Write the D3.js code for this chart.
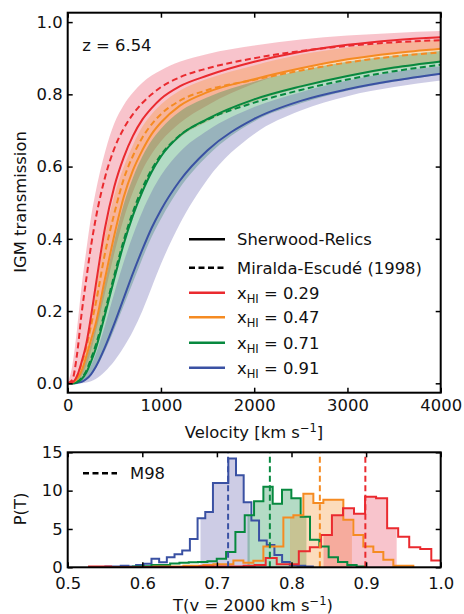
<!DOCTYPE html>
<html>
<head>
<meta charset="utf-8">
<script src="https://cdn.jsdelivr.net/npm/d3@7"></script>
<style>
  body { margin: 0; background: #fff; }
  svg text { font-family: "DejaVu Sans", sans-serif; fill: #111; }
</style>
</head>
<body>
<svg id="fig" width="464" height="614"></svg>
<script>
// ---- top panel: mean transmission vs velocity ----
const velocities = [0, 50, 100, 150, 200, 250, 300, 400, 500, 600, 700, 800, 900, 1000, 1200, 1500, 2000, 2500, 3000, 3500, 4000];

const redSolid    = [0, 0.003, 0.02, 0.06, 0.11, 0.185, 0.27, 0.43, 0.545, 0.625, 0.685, 0.73, 0.762, 0.788, 0.822, 0.852, 0.89, 0.918, 0.937, 0.95, 0.958];
const redDashed   = [0, 0.01, 0.08, 0.195, 0.29, 0.38, 0.455, 0.57, 0.65, 0.705, 0.745, 0.776, 0.8, 0.82, 0.847, 0.872, 0.9, 0.92, 0.934, 0.944, 0.950];
const redLow      = [0, 0, 0.005, 0.02, 0.05, 0.09, 0.14, 0.25, 0.36, 0.455, 0.53, 0.59, 0.635, 0.67, 0.72, 0.77, 0.83, 0.87, 0.897, 0.915, 0.928];
const redHigh     = [0, 0.05, 0.15, 0.27, 0.37, 0.46, 0.53, 0.64, 0.72, 0.77, 0.805, 0.832, 0.852, 0.867, 0.89, 0.912, 0.935, 0.952, 0.963, 0.97, 0.975];

const orangeSolid  = [0, 0.002, 0.012, 0.035, 0.075, 0.12, 0.165, 0.29, 0.41, 0.515, 0.59, 0.645, 0.69, 0.722, 0.768, 0.806, 0.842, 0.872, 0.897, 0.914, 0.926];
const orangeDashed = [0, 0.003, 0.02, 0.055, 0.1, 0.16, 0.22, 0.36, 0.47, 0.565, 0.63, 0.68, 0.717, 0.745, 0.782, 0.812, 0.84, 0.866, 0.888, 0.905, 0.916];
const orangeLow    = [0, 0, 0.002, 0.012, 0.03, 0.06, 0.095, 0.19, 0.29, 0.385, 0.465, 0.53, 0.582, 0.625, 0.68, 0.725, 0.78, 0.818, 0.848, 0.87, 0.888];
const orangeHigh   = [0, 0.005, 0.02, 0.06, 0.11, 0.18, 0.26, 0.41, 0.52, 0.598, 0.66, 0.71, 0.745, 0.772, 0.81, 0.843, 0.88, 0.91, 0.93, 0.943, 0.952];

const greenSolid  = [0, 0, 0.003, 0.012, 0.03, 0.06, 0.095, 0.19, 0.29, 0.385, 0.465, 0.53, 0.585, 0.628, 0.685, 0.732, 0.786, 0.822, 0.851, 0.874, 0.891];
const greenDashed = [0, 0, 0.004, 0.015, 0.035, 0.068, 0.105, 0.2, 0.3, 0.395, 0.475, 0.54, 0.592, 0.632, 0.686, 0.73, 0.777, 0.812, 0.841, 0.864, 0.882];
const greenLow    = [0, 0, 0.001, 0.004, 0.01, 0.022, 0.04, 0.09, 0.15, 0.215, 0.28, 0.345, 0.405, 0.455, 0.54, 0.63, 0.725, 0.775, 0.81, 0.835, 0.855];
const greenHigh   = [0, 0.002, 0.01, 0.035, 0.07, 0.11, 0.16, 0.28, 0.395, 0.495, 0.57, 0.628, 0.672, 0.705, 0.752, 0.792, 0.835, 0.866, 0.89, 0.907, 0.92];

const blueSolid   = [0, 0, 0.001, 0.004, 0.012, 0.025, 0.045, 0.1, 0.165, 0.235, 0.305, 0.37, 0.43, 0.48, 0.56, 0.645, 0.732, 0.782, 0.814, 0.838, 0.857];
const blueLow     = [0, 0, 0, 0, 0.002, 0.006, 0.012, 0.033, 0.062, 0.1, 0.145, 0.2, 0.265, 0.33, 0.44, 0.565, 0.69, 0.755, 0.795, 0.82, 0.838];
const blueHigh    = [0, 0, 0.003, 0.01, 0.025, 0.05, 0.08, 0.16, 0.25, 0.335, 0.41, 0.475, 0.53, 0.575, 0.64, 0.7, 0.765, 0.806, 0.838, 0.862, 0.878];

const xhiValues = ['0.29', '0.47', '0.71', '0.91'];
const redshiftLabel = 'z = 6.54';

// ---- bottom panel: distribution of T(v = 2000 km/s) ----
const blueBinStart = 0.5505, blueBinWidth = 0.0103;
const blueHist = [0.1, 0.1, 0.2, 0.1, 0.3, 0.45, 1.1, 0.65, 1.3, 1.7, 2.2, 3.7, 6.4, 7.2, 11.0, 11.0, 14.2, 12.0, 8.5, 6.1, 3.5, 2.9, 1.6, 0.7, 0.3, 0.2, 0.1];
const greenBinStart = 0.5623, greenBinWidth = 0.0125;
const greenHist = [0.05, 0.05, 0.1, 0.15, 0.3, 0.3, 0.5, 0.6, 0.65, 0.7, 0.8, 1.1, 2.0, 4.6, 6.8, 8.6, 10.5, 8.3, 10.1, 9.0, 6.6, 3.6, 2.7, 1.3, 0.7, 0.3, 0.1];
const orangeBinStart = 0.6015, orangeBinWidth = 0.0134;
const orangeHist = [0.05, 0.1, 0.1, 0.1, 0.2, 0.2, 0.3, 0.4, 0.4, 0.9, 0.6, 0.85, 2.7, 2.7, 6.5, 6.8, 9.6, 8.4, 8.8, 8.8, 6.2, 4.2, 2.7, 2.0, 1.0, 0.2, 0.2];
const redBinStart = 0.5286, redBinWidth = 0.0148;
const redHist = [0.1, 0.1, 0, 0, 0, 0.05, 0.05, 0.05, 0.05, 0.05, 0.1, 0.1, 0.1, 0.1, 0.2, 0.3, 1.2, 0.4, 0.4, 2.1, 2.6, 4.2, 6.8, 7.7, 7.0, 9.2, 9.0, 5.1, 4.0, 2.6, 2.4, 0.9];

// shaded central ranges and M98 values
const blueRange = [0.678, 0.744], greenRange = [0.741, 0.820], orangeRange = [0.798, 0.881], redRange = [0.843, 0.941];
const m98Values = [0.899, 0.838, 0.771, 0.715]; // red, orange, green, blue

const topYTicks = [0, 0.2, 0.4, 0.6, 0.8, 1.0];
const topXTicks = [0, 1000, 2000, 3000, 4000];
const botXTicks = [0.5, 0.6, 0.7, 0.8, 0.9, 1.0];
const botYTicks = [0, 5, 10, 15];

const COLORS = { red: '#ea2a2f', orange: '#f58b22', green: '#07893f', blue: '#3a51a3' };
const FILLS = { red: '#e83a55', orange: '#f58b22', green: '#07893f', blue: '#5a55a8' };
const FONT = 16.4;

class TransmissionFigure {
    constructor() {
        this.svg = d3.select('#fig');
        this.top = { left: 67.7, right: 440.7, top: 12.7, bottom: 392.7 };
        this.bot = { left: 67.7, right: 440.7, top: 452.3, bottom: 567.3 };
        this.drawTop();
        this.drawBottom();
    }

    frame(box, id) {
        this.svg.append('clipPath').attr('id', id)
            .append('rect')
            .attr('x', box.left).attr('y', box.top)
            .attr('width', box.right - box.left).attr('height', box.bottom - box.top);
    }

    axes(box, x, y, xTicks, yTicks, xFmt, yFmt, xPad) {
        const g = this.svg.append('g');
        const style = sel => {
            sel.select('.domain').remove();
            sel.selectAll('line').attr('stroke', '#000').attr('stroke-width', 1.5);
            sel.selectAll('text').style('font-size', FONT + 'px').attr('fill', '#111');
        };
        g.append('g').attr('transform', `translate(0,${box.bottom})`)
            .call(d3.axisBottom(x).tickValues(xTicks).tickFormat(xFmt).tickSizeInner(-5).tickSizeOuter(0).tickPadding(xPad))
            .call(style);
        g.append('g').attr('transform', `translate(0,${box.top})`)
            .call(d3.axisTop(x).tickValues(xTicks).tickFormat('').tickSizeInner(-5).tickSizeOuter(0))
            .call(style);
        g.append('g').attr('transform', `translate(${box.left},0)`)
            .call(d3.axisLeft(y).tickValues(yTicks).tickFormat(yFmt).tickSizeInner(-5).tickSizeOuter(0).tickPadding(5))
            .call(style);
        g.append('g').attr('transform', `translate(${box.right},0)`)
            .call(d3.axisRight(y).tickValues(yTicks).tickFormat('').tickSizeInner(-5).tickSizeOuter(0))
            .call(style);
        g.append('rect')
            .attr('x', box.left).attr('y', box.top)
            .attr('width', box.right - box.left).attr('height', box.bottom - box.top)
            .attr('fill', 'none').attr('stroke', '#000').attr('stroke-width', 2);
    }

    drawTop() {
        const b = this.top;
        const x = d3.scaleLinear().domain([0, 4000]).range([b.left, b.right]);
        const y = d3.scaleLinear().domain([-0.026, 1.026]).range([b.bottom, b.top]);
        this.frame(b, 'clipTop');

        const plot = this.svg.append('g').attr('clip-path', 'url(#clipTop)');
        const area = d3.area().curve(d3.curveMonotoneX)
            .x((d, i) => x(velocities[i])).y0(d => y(d[0])).y1(d => y(d[1]));
        const line = d3.line().curve(d3.curveMonotoneX)
            .x((d, i) => x(velocities[i])).y(d => y(d));

        const bands = [
            [redLow, redHigh, FILLS.red],
            [orangeLow, orangeHigh, FILLS.orange],
            [greenLow, greenHigh, FILLS.green],
            [blueLow, blueHigh, FILLS.blue]
        ];
        bands.forEach(([lo, hi, c]) => {
            plot.append('path')
                .attr('d', area(lo.map((v, i) => [v, hi[i]])))
                .attr('fill', c).attr('fill-opacity', 0.3);
        });

        const curves = [
            [blueSolid, COLORS.blue, null],
            [greenDashed, COLORS.green, '6,3.5'],
            [greenSolid, COLORS.green, null],
            [orangeDashed, COLORS.orange, '6,3.5'],
            [orangeSolid, COLORS.orange, null],
            [redDashed, COLORS.red, '6,3.5'],
            [redSolid, COLORS.red, null]
        ];
        curves.forEach(([vals, c, dash]) => {
            plot.append('path')
                .attr('d', line(vals))
                .attr('fill', 'none').attr('stroke', c).attr('stroke-width', 2)
                .attr('stroke-dasharray', dash);
        });

        this.axes(b, x, y, topXTicks, topYTicks, d3.format('d'), d3.format('.1f'), 6.5);

        this.svg.append('text').attr('x', 82.3).attr('y', 51).style('font-size', FONT + 'px').text(redshiftLabel);

        // legend
        const leg = this.svg.append('g');
        const rows = [
            { y: 239.3, color: '#000', dash: null, label: 'Sherwood-Relics' },
            { y: 267.7, color: '#000', dash: '6,3.5', label: 'Miralda-Escudé (1998)' },
            { y: 292.7, color: COLORS.red, xhi: xhiValues[0] },
            { y: 317.3, color: COLORS.orange, xhi: xhiValues[1] },
            { y: 342.7, color: COLORS.green, xhi: xhiValues[2] },
            { y: 367.7, color: COLORS.blue, xhi: xhiValues[3] }
        ];
        rows.forEach(r => {
            leg.append('line')
                .attr('x1', 189).attr('x2', 225).attr('y1', r.y).attr('y2', r.y)
                .attr('stroke', r.color).attr('stroke-width', 2.5)
                .attr('stroke-dasharray', r.dash);
            const t = leg.append('text').attr('x', 237).attr('y', r.y + 6).style('font-size', FONT + 'px');
            if (r.label) {
                t.text(r.label);
            } else {
                t.append('tspan').text('x');
                t.append('tspan').attr('dy', 4).style('font-size', '11.5px').text('HI');
                t.append('tspan').attr('dy', -4).text(' = ' + r.xhi);
            }
        });

        // axis labels
        const xl = this.svg.append('text').attr('x', 254).attr('y', 437.5)
            .attr('text-anchor', 'middle').style('font-size', FONT + 'px');
        xl.append('tspan').text('Velocity [km s');
        xl.append('tspan').attr('dy', -6).style('font-size', '11.5px').text('−1');
        xl.append('tspan').attr('dy', 6).text(']');

        this.svg.append('text')
            .attr('transform', 'translate(26,202) rotate(-90)')
            .attr('text-anchor', 'middle').style('font-size', FONT + 'px')
            .text('IGM transmission');
    }

    drawBottom() {
        const b = this.bot;
        const x = d3.scaleLinear().domain([0.5, 1.0]).range([b.left, b.right]);
        const y = d3.scaleLinear().domain([0, 15]).range([b.bottom, b.top]);
        this.frame(b, 'clipBot');
        const plot = this.svg.append('g').attr('clip-path', 'url(#clipBot)');

        const hists = [
            { start: blueBinStart, width: blueBinWidth, vals: blueHist, range: blueRange, color: COLORS.blue, fill: FILLS.blue },
            { start: greenBinStart, width: greenBinWidth, vals: greenHist, range: greenRange, color: COLORS.green, fill: FILLS.green },
            { start: orangeBinStart, width: orangeBinWidth, vals: orangeHist, range: orangeRange, color: COLORS.orange, fill: FILLS.orange },
            { start: redBinStart, width: redBinWidth, vals: redHist, range: redRange, color: COLORS.red, fill: FILLS.red }
        ];

        const stepLine = d3.line().curve(d3.curveStepAfter).x(d => x(d[0])).y(d => y(d[1]));
        const stepArea = d3.area().curve(d3.curveStepAfter).x(d => x(d[0])).y0(y(0)).y1(d => y(d[1]));

        const points = h => {
            const pts = [[h.start, 0]];
            h.vals.forEach((v, i) => pts.push([h.start + i * h.width, v]));
            pts.push([h.start + h.vals.length * h.width, 0]);
            return pts;
        };

        // shaded central parts
        hists.forEach((h, k) => {
            const cid = 'fillclip' + k;
            this.svg.append('clipPath').attr('id', cid)
                .append('rect')
                .attr('x', x(h.range[0])).attr('y', b.top)
                .attr('width', x(h.range[1]) - x(h.range[0])).attr('height', b.bottom - b.top);
            const pts = h.vals.map((v, i) => [h.start + i * h.width, v]);
            pts.push([h.start + h.vals.length * h.width, 0]);
            plot.append('g').attr('clip-path', `url(#${cid})`)
                .append('path')
                .attr('d', stepArea(pts))
                .attr('fill', h.fill).attr('fill-opacity', 0.3);
        });

        hists.forEach(h => {
            plot.append('path')
                .attr('d', stepLine(points(h)))
                .attr('fill', 'none').attr('stroke', h.color).attr('stroke-width', 2);
        });

        // M98 markers
        const mColors = [COLORS.red, COLORS.orange, COLORS.green, COLORS.blue];
        m98Values.forEach((m, i) => {
            plot.append('line')
                .attr('x1', x(m)).attr('x2', x(m)).attr('y1', y(0)).attr('y2', y(15))
                .attr('stroke', mColors[i]).attr('stroke-width', 2).attr('stroke-dasharray', '6,3.5');
        });

        this.axes(b, x, y, botXTicks, botYTicks, d3.format('.1f'), d3.format('d'), 10);

        this.svg.append('line')
            .attr('x1', 83).attr('x2', 117).attr('y1', 473.3).attr('y2', 473.3)
            .attr('stroke', '#000').attr('stroke-width', 2.5).attr('stroke-dasharray', '6,3.5');
        this.svg.append('text').attr('x', 130).attr('y', 479.3).style('font-size', FONT + 'px').text('M98');

        const xl = this.svg.append('text').attr('x', 253).attr('y', 611)
            .attr('text-anchor', 'middle').style('font-size', FONT + 'px');
        xl.append('tspan').text('T(v = 2000 km s');
        xl.append('tspan').attr('dy', -6).style('font-size', '11.5px').text('−1');
        xl.append('tspan').attr('dy', 6).text(')');

        this.svg.append('text')
            .attr('transform', 'translate(26,509) rotate(-90)')
            .attr('text-anchor', 'middle').style('font-size', FONT + 'px')
            .text('P(T)');
    }
}

new TransmissionFigure();
</script>
</body>
</html>
